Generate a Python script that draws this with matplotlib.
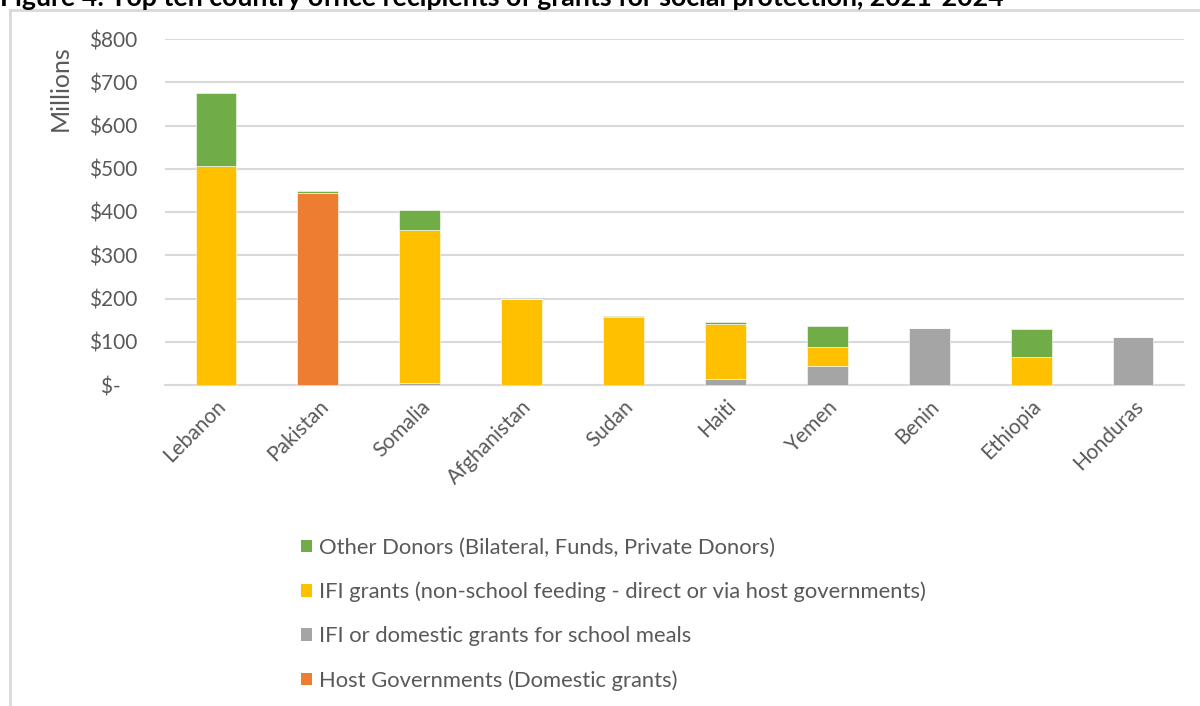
import matplotlib
matplotlib.use("Agg")
import matplotlib.pyplot as plt
from matplotlib.lines import Line2D
from matplotlib.patches import Patch
from matplotlib.ticker import FuncFormatter
import numpy as np

plt.rcParams['font.family'] = ['Lato', 'DejaVu Sans']

countries = ["Lebanon", "Pakistan", "Somalia", "Afghanistan", "Sudan",
             "Haiti", "Yemen", "Benin", "Ethiopia", "Honduras"]

# Millions of USD, by funding source
host_gov = [0, 444, 0, 0, 0, 0, 0, 0, 0, 0]
school_meals = [0, 0, 4, 0, 0, 13, 45, 131, 0, 112]
ifi_grants = [506, 0, 354, 199, 157, 127, 44, 0, 64, 0]
other_donors = [169, 5, 47, 0, 1.5, 6, 47, 1, 65, 0]

series = [
    ("Host Governments (Domestic grants)", host_gov, "#ED7D31"),
    ("IFI or domestic grants for school meals", school_meals, "#A5A5A5"),
    ("IFI grants (non-school feeding - direct or via host governments)", ifi_grants, "#FFC000"),
    ("Other Donors (Bilateral, Funds, Private Donors)", other_donors, "#70AD47"),
]

text_color = "#595959"
grid_color = "#D9D9D9"

fig = plt.figure(figsize=(12, 7.06), dpi=100)
ax = fig.add_axes([165 / 1200, 1 - 385 / 706, 1019 / 1200, 346 / 706])

x = np.arange(len(countries))
bottom = np.zeros(len(countries))
for label, vals, color in series:
    vals = np.array(vals, dtype=float)
    ax.bar(x, vals, width=0.4, bottom=bottom, color=color, label=label,
           edgecolor="white", linewidth=0.4, zorder=3)
    bottom += vals

ax.set_xlim(-0.5, len(countries) - 0.5)
ax.set_ylim(0, 800)
ax.set_yticks(np.arange(0, 801, 100))


def money(v, pos):
    return "$-   " if v == 0 else f"${int(v)}"


ax.yaxis.set_major_formatter(FuncFormatter(money))
ax.grid(axis="y", color=grid_color, linewidth=1.5, zorder=0)
ax.set_axisbelow(True)
for side in ["top", "right", "left"]:
    ax.spines[side].set_visible(False)
ax.spines["bottom"].set_color(grid_color)
ax.spines["bottom"].set_linewidth(1.5)
ax.tick_params(axis="both", length=0, colors=text_color, labelsize=15)
ax.tick_params(axis="y", pad=20)
ax.set_xticks(x)
ax.set_xticklabels(countries, rotation=45, ha="right", rotation_mode="anchor")
ax.tick_params(axis="x", pad=8)

fig.text(60 / 1200, 1 - 88 / 706, "Millions", rotation=90, ha="center",
         va="center", fontsize=18, color=text_color)

# legend: top series listed first
handles = [Patch(facecolor=c, edgecolor="none", label=l) for l, _, c in reversed(series)]
fig.legend(handles=handles, loc="upper left", bbox_to_anchor=(281 / 1200, 1 - 518 / 706),
           frameon=False, fontsize=15.8, labelcolor=text_color, handlelength=0.5,
           handleheight=0.5, handletextpad=0.35, labelspacing=1.09)

# chart-area frame
fig.add_artist(Line2D([10 / 1200, 1], [1 - 10 / 706, 1 - 10 / 706],
                      transform=fig.transFigure, color=grid_color, linewidth=2))
fig.add_artist(Line2D([10 / 1200, 10 / 1200], [0, 1 - 10 / 706],
                      transform=fig.transFigure, color=grid_color, linewidth=2))

fig.text(0, 1 - 6 / 706,
         "Figure 4: Top ten country office recipients of grants for social protection, 2021-2024",
         ha="left", va="baseline", fontsize=19.3, fontweight="bold", color="black")

fig.savefig("out.png", dpi=100)
